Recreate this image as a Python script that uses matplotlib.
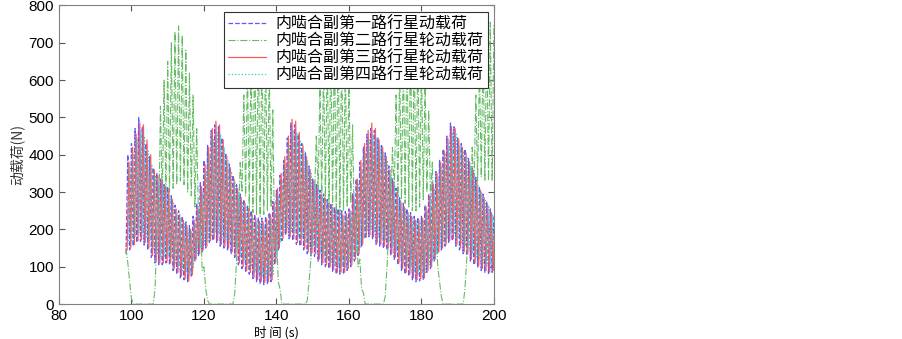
import numpy as np
import matplotlib
matplotlib.use('Agg')
import matplotlib.pyplot as plt

plt.rcParams['font.family'] = ['Liberation Sans', 'Noto Sans CJK SC', 'DejaVu Sans']

# времена: пики в целые секунды, впадины на полсекунды раньше
t_hi = np.arange(99, 201)
t_lo = t_hi - 0.5

# первая ветвь (синяя)
blue_hi = [400, 430, 470, 500, 475, 430, 395, 365, 350, 335,
           320, 315, 290, 265, 250, 235, 220, 210, 235, 270,
           325, 385, 425, 465, 480, 475, 445, 405, 375, 345,
           320, 295, 280, 265, 250, 240, 232, 230, 235, 245,
           275, 305, 345, 385, 445, 485, 480, 455, 430, 405,
           370, 335, 320, 305, 295, 280, 270, 260, 255, 250,
           248, 255, 295, 335, 380, 420, 455, 470, 465, 445,
           425, 405, 370, 335, 310, 285, 270, 255, 245, 235,
           232, 235, 265, 295, 325, 355, 385, 415, 450, 485,
           475, 445, 430, 415, 390, 365, 340, 315, 295, 275,
           255, 235]
blue_lo = [135, 145, 155, 165, 168, 158, 145, 125, 110, 105,
           105, 110, 105, 90, 80, 70, 65, 60, 75, 115,
           130, 140, 150, 165, 170, 165, 155, 150, 145, 135,
           125, 105, 95, 85, 80, 68, 60, 55, 52, 55,
           60, 105, 145, 170, 185, 175, 170, 160, 155, 145,
           135, 130, 128, 115, 105, 100, 95, 88, 80, 80,
           80, 90, 100, 115, 130, 155, 175, 180, 175, 160,
           155, 150, 145, 130, 120, 105, 90, 80, 75, 65,
           60, 62, 65, 85, 95, 115, 135, 145, 155, 165,
           170, 155, 145, 135, 130, 115, 105, 98, 90, 85,
           80, 85]

# вторая ветвь (зелёная)
green_hi = [110, 15, 0, 0, 0, 0, 0, 0, 180, 530,
            600, 650, 700, 730, 745, 720, 680, 620, 560, 470,
            260, 100, 10, 0, 0, 0, 0, 0, 0, 0,
            120, 380, 560, 640, 690, 720, 730, 720, 690, 640,
            520, 200, 40, 0, 0, 0, 0, 0, 0, 0,
            60, 230, 450, 580, 650, 690, 715, 725, 720, 700,
            660, 600, 480, 250, 120, 30, 0, 0, 0, 0,
            0, 20, 200, 420, 560, 630, 680, 710, 725, 720,
            700, 660, 600, 520, 380, 200, 60, 0, 0, 0,
            0, 0, 0, 40, 250, 420, 560, 640, 700, 735,
            755, 750]
green_lo = [150, 60, 0, 0, 0, 0, 0, 0, 40, 200,
            270, 290, 300, 310, 320, 330, 320, 300, 290, 260,
            220, 90, 40, 0, 0, 0, 0, 0, 0, 0,
            30, 200, 300, 290, 250, 245, 240, 235, 240, 250,
            260, 150, 60, 0, 0, 0, 0, 0, 0, 0,
            10, 120, 280, 300, 280, 270, 260, 250, 240, 240,
            250, 260, 270, 200, 100, 40, 0, 0, 0, 0,
            0, 0, 100, 250, 300, 290, 280, 270, 260, 250,
            250, 260, 280, 300, 280, 180, 100, 20, 0, 0,
            0, 0, 0, 0, 120, 230, 300, 330, 340, 330,
            330, 330]

# третья ветвь (красная)
red_hi = [380, 420, 455, 485, 480, 440, 400, 360, 345, 330,
          315, 305, 280, 255, 240, 225, 210, 200, 225, 260,
          315, 375, 420, 470, 490, 480, 440, 395, 365, 335,
          310, 285, 270, 255, 240, 230, 222, 220, 228, 240,
          270, 310, 350, 395, 450, 495, 490, 460, 425, 395,
          360, 330, 310, 295, 285, 270, 260, 250, 245, 240,
          242, 250, 290, 335, 385, 430, 465, 485, 470, 440,
          420, 395, 360, 325, 300, 275, 260, 245, 235, 225,
          225, 230, 260, 290, 320, 350, 380, 410, 445, 475,
          470, 440, 420, 405, 380, 355, 330, 305, 285, 265,
          245, 225]
red_lo = [145, 150, 160, 170, 172, 165, 150, 130, 115, 110,
          110, 112, 110, 95, 85, 75, 68, 62, 78, 120,
          135, 145, 155, 170, 175, 170, 160, 155, 150, 140,
          130, 110, 100, 90, 85, 72, 65, 60, 58, 60,
          65, 110, 150, 175, 190, 180, 175, 165, 160, 150,
          140, 137, 135, 120, 110, 105, 100, 92, 85, 85,
          85, 95, 105, 120, 135, 160, 180, 185, 180, 165,
          160, 155, 150, 135, 125, 110, 95, 85, 80, 70,
          65, 68, 70, 90, 100, 120, 140, 150, 160, 170,
          175, 160, 150, 140, 135, 120, 110, 102, 95, 90,
          85, 90]

# четвёртая ветвь (голубая)
cyan_hi = [370, 400, 440, 465, 450, 410, 375, 345, 330, 315,
           300, 290, 270, 245, 230, 215, 200, 195, 215, 250,
           300, 355, 400, 440, 460, 455, 420, 385, 355, 325,
           300, 275, 260, 245, 232, 222, 215, 212, 218, 230,
           258, 290, 330, 370, 425, 465, 460, 435, 410, 385,
           350, 320, 305, 290, 278, 265, 255, 245, 240, 235,
           235, 245, 280, 320, 360, 405, 440, 455, 445, 425,
           405, 385, 350, 318, 295, 270, 255, 240, 230, 222,
           220, 225, 250, 280, 310, 340, 370, 400, 430, 460,
           455, 425, 410, 395, 370, 345, 320, 298, 278, 260,
           240, 222]
cyan_lo = [160, 170, 180, 190, 190, 180, 168, 148, 132, 125,
           125, 128, 125, 110, 100, 90, 85, 80, 95, 135,
           150, 160, 170, 185, 192, 188, 178, 172, 165, 155,
           145, 125, 115, 105, 100, 88, 80, 75, 72, 75,
           80, 125, 165, 190, 205, 195, 190, 180, 175, 165,
           155, 152, 150, 135, 125, 120, 112, 105, 100, 100,
           100, 110, 120, 135, 150, 175, 195, 200, 195, 180,
           175, 170, 165, 150, 140, 125, 110, 100, 95, 85,
           80, 82, 85, 105, 115, 135, 155, 165, 175, 185,
           190, 175, 165, 155, 150, 135, 125, 118, 110, 105,
           100, 105]

labels = ['内啮合副第一路行星动载荷', '内啮合副第二路行星轮动载荷',
          '内啮合副第三路行星轮动载荷', '内啮合副第四路行星轮动载荷']


def zigzag(lo, hi, shift):
    # чередуем впадины и пики
    x = np.empty(2 * len(t_hi))
    y = np.empty(2 * len(t_hi))
    x[0::2] = t_lo + shift
    x[1::2] = t_hi + shift
    y[0::2] = lo
    y[1::2] = hi
    return x, y


fig = plt.figure(figsize=(9.03, 3.39), dpi=100)
ax = fig.add_axes([0.0653, 0.103, 0.4817, 0.881])

xb, yb = zigzag(blue_lo, blue_hi, 0.0)
xg, yg = zigzag(green_lo, green_hi, 0.0)
xr, yr = zigzag(red_lo, red_hi, 0.3)
xc, yc = zigzag(cyan_lo, cyan_hi, 0.6)

ax.plot(xb, yb, color='#5a5aff', linestyle='--', linewidth=0.9, label=labels[0])
ax.plot(xg, yg, color='#66bb66', linestyle='-.', linewidth=0.8, label=labels[1])
ax.plot(xr, yr, color='#ff5a5a', linestyle='-', linewidth=0.9, label=labels[2])
ax.plot(xc, yc, color='#33cccc', linestyle=':', linewidth=0.9, label=labels[3])

ax.set_xlim(80, 200)
ax.set_ylim(0, 800)
ax.set_xticks(range(80, 201, 20))
ax.set_yticks(range(0, 801, 100))
ax.tick_params(direction='in', top=True, right=True, length=4, labelsize=11,
               color='#555555')
for s in ax.spines.values():
    s.set_color('#808080')

ax.set_xlabel('时 间 (s)', fontsize=9, family=['Noto Sans CJK SC', 'DejaVu Sans'],
              labelpad=2)
ax.set_ylabel('动载荷(N)', fontsize=10, family=['Noto Sans CJK SC', 'DejaVu Sans'],
              color='#333333', labelpad=3)

leg = ax.legend(loc='upper right', fancybox=False, framealpha=1, edgecolor='#333333',
                prop={'family': ['Noto Sans CJK SC', 'DejaVu Sans'], 'size': 11.5},
                handlelength=2.4, labelspacing=0.0, borderaxespad=0.4,
                borderpad=0.25, handletextpad=0.6)
leg.get_frame().set_linewidth(0.8)

fig.savefig('out.png', dpi=100)
